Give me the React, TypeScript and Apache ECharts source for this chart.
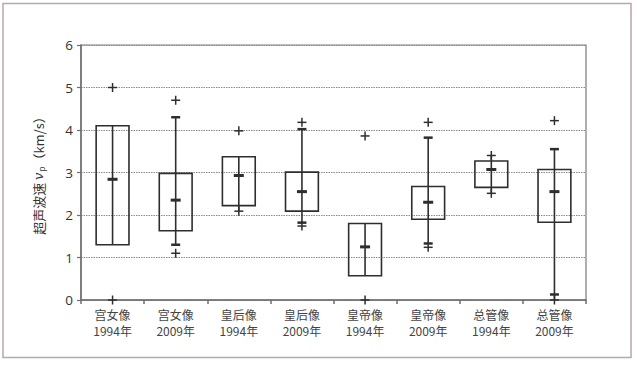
import React, { useEffect, useRef } from "react";
import * as echarts from "echarts";

const categories = [
  "宫女像\n1994年",
  "宫女像\n2009年",
  "皇后像\n1994年",
  "皇后像\n2009年",
  "皇帝像\n1994年",
  "皇帝像\n2009年",
  "总管像\n1994年",
  "总管像\n2009年",
];
const q1 = [1.3, 1.63, 2.22, 2.09, 0.57, 1.9, 2.65, 1.83];
const q3 = [4.1, 2.98, 3.37, 3.01, 1.8, 2.67, 3.27, 3.07];
const mids = [2.84, 2.35, 2.93, 2.55, 1.25, 2.3, 3.07, 2.55];
const lineLow = [1.3, 1.3, 2.09, 1.82, 0.57, 1.33, 2.51, 0.0];
const lineHigh = [4.1, 4.3, 3.37, 4.02, 1.8, 3.82, 3.4, 3.55];
const capLow: (number | null)[] = [null, 1.3, null, 1.82, null, 1.33, null, 0.13];
const capHigh: (number | null)[] = [null, 4.3, null, 4.02, null, 3.82, null, 3.55];
const plusHigh = [5.0, 4.7, 3.98, 4.18, 3.86, 4.18, 3.4, 4.22];
const plusLow = [0.0, 1.1, 2.09, 1.74, 0.0, 1.24, 2.51, 0.0];
const yTicks = [0, 1, 2, 3, 4, 5, 6];

const INK = "#2e2e2e";
const FONT = "Noto Sans CJK SC";

export default function App() {
  const ref = useRef<HTMLDivElement>(null);
  useEffect(() => {
    if (!ref.current) return;
    const chart = echarts.init(ref.current, undefined, { renderer: "svg" });
    const data = categories.map((_, i) => [i, q1[i], q3[i], mids[i], lineLow[i], lineHigh[i], plusHigh[i], plusLow[i]]);
    const renderItem = (params: any, api: any) => {
      const i = api.value(0);
      const cx = api.coord([i, 0])[0];
      const y = (v: number) => api.coord([i, v])[1];
      const bw = api.size([1, 0])[0] * 0.52;
      const children: any[] = [];
      children.push({
        type: "line",
        shape: { x1: cx, y1: y(lineLow[i]), x2: cx, y2: y(lineHigh[i]) },
        style: { stroke: INK, lineWidth: 1.6 },
      });
      children.push({
        type: "rect",
        shape: { x: cx - bw / 2, y: y(q3[i]), width: bw, height: y(q1[i]) - y(q3[i]) },
        style: { fill: "none", stroke: INK, lineWidth: 1.6 },
      });
      children.push({
        type: "line",
        shape: { x1: cx - 5, y1: y(mids[i]), x2: cx + 5, y2: y(mids[i]) },
        style: { stroke: INK, lineWidth: 3 },
      });
      [capLow[i], capHigh[i]].forEach((c) => {
        if (c === null) return;
        children.push({
          type: "line",
          shape: { x1: cx - 4.5, y1: y(c), x2: cx + 4.5, y2: y(c) },
          style: { stroke: INK, lineWidth: 2.5 },
        });
      });
      [plusHigh[i], plusLow[i]].forEach((p) => {
        const py = y(p);
        children.push({
          type: "line",
          shape: { x1: cx - 4.5, y1: py, x2: cx + 4.5, y2: py },
          style: { stroke: INK, lineWidth: 1.5 },
        });
        children.push({
          type: "line",
          shape: { x1: cx, y1: py - 4.5, x2: cx, y2: py + 4.5 },
          style: { stroke: INK, lineWidth: 1.5 },
        });
      });
      return { type: "group", children };
    };
    chart.setOption({
      animation: false,
      backgroundColor: "#ffffff",
      textStyle: { fontFamily: FONT },
      graphic: [
        {
          type: "rect",
          shape: { x: 3, y: 3.5, width: 628, height: 354 },
          style: { fill: "none", stroke: "#b9a6a6", lineWidth: 1.5 },
          silent: true,
        },
      ],
      grid: {
        left: 81,
        top: 45,
        right: 51,
        bottom: 65,
        show: true,
        borderColor: "#7a7a7a",
        borderWidth: 1.2,
      },
      xAxis: {
        type: "category",
        data: categories,
        boundaryGap: true,
        axisLine: { lineStyle: { color: "#6e6e6e", width: 1.5 } },
        axisTick: { show: true, interval: 0, length: 4, lineStyle: { color: "#6e6e6e", width: 1.5 } },
        axisLabel: {
          interval: 0,
          color: "#444",
          fontSize: 12,
          lineHeight: 16,
          margin: 6,
          fontFamily: FONT,
        },
        splitLine: { show: false },
      },
      yAxis: {
        type: "value",
        min: 0,
        max: 6,
        interval: 1,
        name: "超声波速 {i|v}{s|p}（km/s）",
        nameLocation: "middle",
        nameRotate: 90,
        nameGap: 36,
        nameTextStyle: {
          color: "#333",
          fontSize: 13,
          fontFamily: FONT,
          rich: {
            i: { fontStyle: "italic", fontSize: 13, color: "#333", fontFamily: "DejaVu Serif" },
            s: { fontSize: 8, color: "#333", verticalAlign: "bottom", padding: [6, 0, 0, 1] },
          },
        },
        axisLine: { show: true, lineStyle: { color: "#6e6e6e", width: 1.5 } },
        axisTick: { show: true, length: 4, lineStyle: { color: "#6e6e6e", width: 1.2 } },
        axisLabel: {
          color: "#333",
          fontSize: 13.5,
          margin: 8,
          fontFamily: "Open Sans",
          formatter: (v: number) => (yTicks.includes(v) ? String(v) : ""),
        },
        splitLine: { show: true, lineStyle: { color: "#8a8a8a", type: [1.5, 1], width: 1 } },
      },
      series: [
        {
          type: "custom",
          renderItem,
          data,
          clip: false,
          encode: { x: 0, y: [1, 2, 3, 4, 5, 6, 7] },
          z: 5,
        },
      ],
    });
    return () => chart.dispose();
  }, []);
  return (
    <div
      ref={ref}
      style={{ position: "fixed", left: 0, top: 0, width: 637, height: 365, background: "#fff" }}
    />
  );
}
